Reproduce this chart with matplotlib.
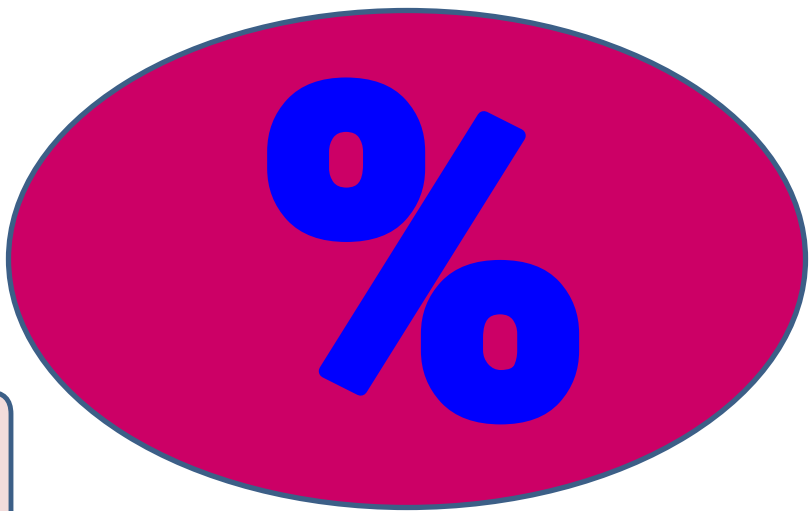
import matplotlib.pyplot as plt
import matplotlib.patheffects as pe
from matplotlib.patches import Ellipse, FancyBboxPatch

# shape geometry (pixels, y down)
ellipse_center = (407, 259)
ellipse_size = (797, 497)
symbol = '%'
symbol_center_x = 423
symbol_baseline = 413
fill_color = '#CC0066'
edge_color = '#3C5F87'
symbol_color = '#0000FF'

fig = plt.figure(figsize=(8.09, 5.11), dpi=100)
ax = fig.add_axes([0, 0, 1, 1])
ax.set_xlim(0, 809)
ax.set_ylim(511, 0)
ax.axis('off')

# corner of the pink box peeking in at the bottom left
box = FancyBboxPatch((-200, 392), 211, 300, boxstyle='round,pad=0,rounding_size=22',
                     facecolor='#F2DCDB', edgecolor=edge_color, linewidth=3.5)
ax.add_patch(box)

ell = Ellipse(ellipse_center, ellipse_size[0], ellipse_size[1],
              facecolor=fill_color, edgecolor=edge_color, linewidth=3.8)
ax.add_patch(ell)

ax.text(symbol_center_x, symbol_baseline, symbol, color=symbol_color, fontsize=328,
        fontweight='black', family='Roboto', ha='center', va='baseline',
        path_effects=[pe.withStroke(linewidth=10, foreground=symbol_color)])

plt.savefig('out.png', dpi=100)
